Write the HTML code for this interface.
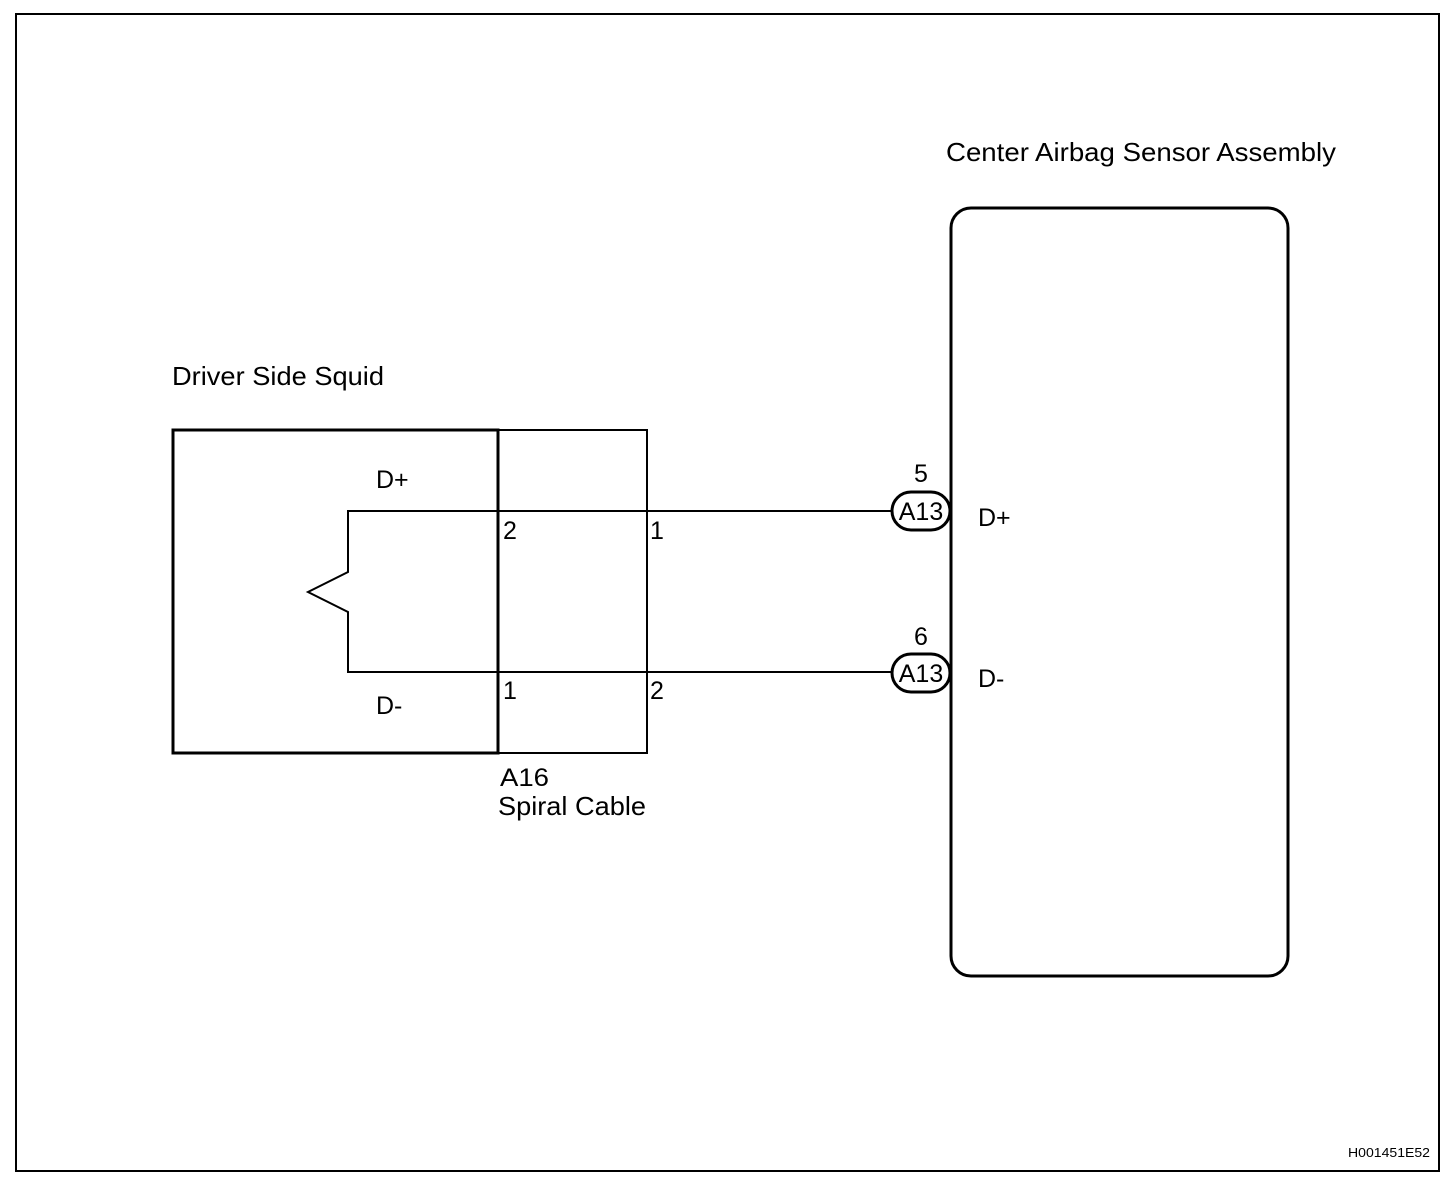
<!DOCTYPE html>
<html><head><meta charset="utf-8"><style>
html,body{margin:0;padding:0;background:#fff;}
svg{display:block;}
text{font-family:"Liberation Sans",Arial,sans-serif;fill:#000;}
</style></head><body>
<svg width="1456" height="1180" viewBox="0 0 1456 1180" xmlns="http://www.w3.org/2000/svg">
<rect x="16" y="14" width="1423" height="1157" fill="none" stroke="#000" stroke-width="2"/>
<text x="946" y="161" font-size="26" textLength="390" lengthAdjust="spacingAndGlyphs">Center Airbag Sensor Assembly</text>
<rect x="951" y="208" width="337" height="768" rx="20" ry="20" fill="none" stroke="#000" stroke-width="3"/>
<text x="172" y="385" font-size="26" textLength="212" lengthAdjust="spacingAndGlyphs">Driver Side Squid</text>
<rect x="498" y="430" width="149" height="323" fill="none" stroke="#000" stroke-width="2"/>
<rect x="173" y="430" width="325" height="323" fill="none" stroke="#000" stroke-width="3"/>
<polyline points="892,511 348,511 348,572 308,592 348,612 348,672 892,672" fill="none" stroke="#000" stroke-width="2"/>
<text x="376" y="488" font-size="25">D+</text>
<text x="376" y="714" font-size="25">D-</text>
<text x="503" y="539" font-size="25">2</text>
<text x="650" y="539" font-size="25">1</text>
<text x="503" y="699" font-size="25">1</text>
<text x="650" y="699" font-size="25">2</text>
<text x="500" y="786" font-size="25" textLength="49" lengthAdjust="spacingAndGlyphs">A16</text>
<text x="498" y="815" font-size="26" textLength="148" lengthAdjust="spacingAndGlyphs">Spiral Cable</text>
<rect x="892" y="492" width="58" height="38" rx="19" ry="19" fill="#fff" stroke="#000" stroke-width="3"/>
<text x="921" y="520" font-size="25" text-anchor="middle">A13</text>
<text x="921" y="482" font-size="25" text-anchor="middle">5</text>
<rect x="892" y="654" width="58" height="38" rx="19" ry="19" fill="#fff" stroke="#000" stroke-width="3"/>
<text x="921" y="682" font-size="25" text-anchor="middle">A13</text>
<text x="921" y="645" font-size="25" text-anchor="middle">6</text>
<text x="978" y="526" font-size="25">D+</text>
<text x="978" y="687" font-size="25">D-</text>
<text x="1348" y="1157" font-size="13" textLength="82" lengthAdjust="spacingAndGlyphs">H001451E52</text>
</svg>
</body></html>
